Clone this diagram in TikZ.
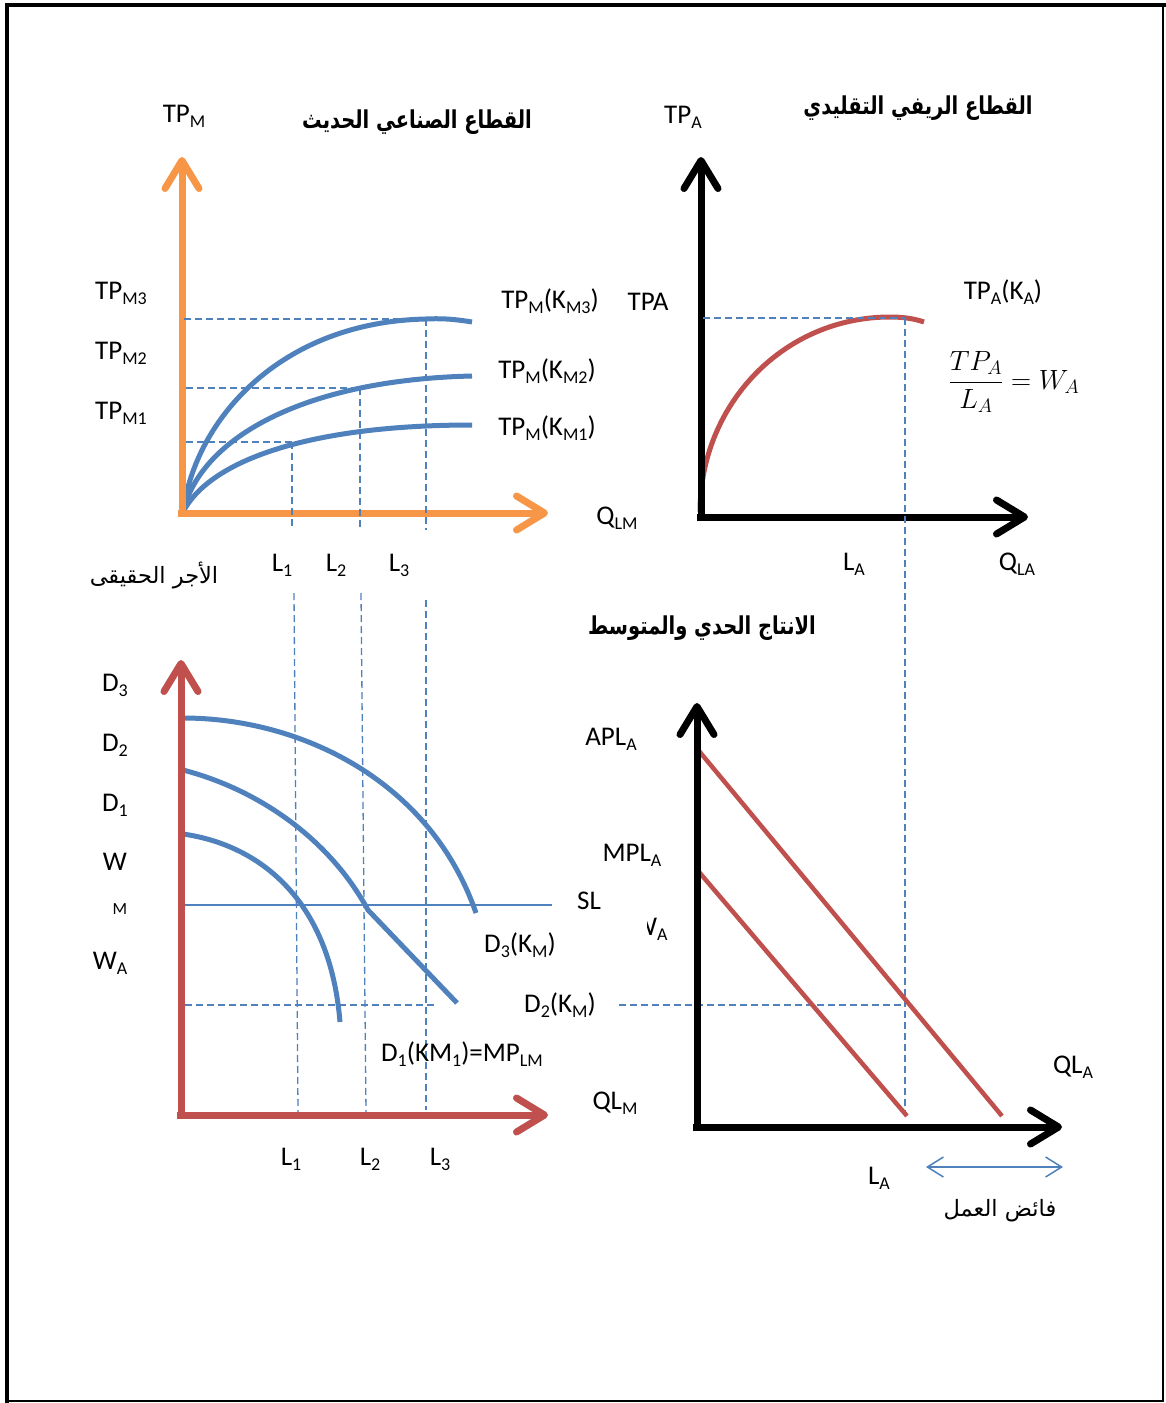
\documentclass[tikz,border=0pt]{standalone}
\usepackage{fontspec}
\usepackage{graphicx}
\setmainfont{Carlito}
\newfontfamily\arabicfont[Script=Arabic,BoldFont={DejaVu Sans Bold}]{DejaVu Sans}
\TeXXeTstate=1
\usetikzlibrary{arrows.meta}
\definecolor{axorange}{RGB}{247,150,70}
\definecolor{curveblue}{RGB}{79,129,189}
\definecolor{axred}{RGB}{192,80,77}
\newcommand\lsub[1]{\raisebox{-5pt}{\fontsize{18}{18}\selectfont #1}}
\newcommand\artitle[1]{\scalebox{0.885}[1.12]{\beginR #1\endR}}
\begin{document}
\begin{tikzpicture}[x=1pt,y=-1pt,
  lbl/.style={inner sep=0pt,font=\fontsize{27}{30}\selectfont},
  ttl/.style={inner sep=0pt,font=\arabicfont\bfseries\fontsize{22}{26}\selectfont},
  artxt/.style={inner sep=0pt,font=\arabicfont\fontsize{22.5}{26}\selectfont},
  axis/.style={line width=7pt,-{Straight Barb[length=28pt,width=34pt,round]}},
  curve/.style={line width=5pt,color=curveblue},
  redline/.style={line width=4.5pt,color=axred},
  guide/.style={line width=1.3pt,color=curveblue,dash pattern=on 7pt off 4pt},
  dbl/.style={line width=1.5pt,color=curveblue,{Straight Barb[length=16pt,width=20pt]}-{Straight Barb[length=16pt,width=20pt]}}]
\useasboundingbox (0,0) rectangle (1166,1403);
\fill[white] (0,0) rectangle (1166,1403);
% frame
\draw[line width=4.5pt] (7,1403) -- (7,5) -- (1166,5);
\draw[line width=1.5pt] (1163,5) -- (1163,1401) -- (7,1401);

% ---------- panel 1 : modern industrial sector ----------
\coordinate (o1) at (182,513);
\draw[curve] (183,512) .. controls (195,420) and (280,322) .. (426,319)
  .. controls (445,318) and (460,320) .. (472,322);
\draw[curve] (183,512) .. controls (200,440) and (300,380) .. (472,376);
\draw[curve] (183,512) .. controls (210,460) and (310,425) .. (472,425);
\draw[axis,axorange] (182,517) -- (182,157);
\draw[axis,axorange] (178,513) -- (548,513);
\draw[guide] (184,319) -- (426,319);
\draw[guide] (186,388) -- (360,388);
\draw[guide] (186,442) -- (292,442);
\draw[guide] (292,442) -- (292,528);
\draw[guide] (360,388) -- (360,528);
\draw[guide] (426,319) -- (426,530);
\node[lbl] (tpm) at (184,116) {TP\lsub{M}};
\node[ttl] (t1) at (417,122) {\artitle{القطاع الصناعي الحديث}};
\node[lbl] (tpm3) at (121,293) {TP\lsub{M3}};
\node[lbl] (tpm2) at (121,353) {TP\lsub{M2}};
\node[lbl] (tpm1) at (121,413) {TP\lsub{M1}};
\node[lbl] (k3) at (550,301) {TP\lsub{M}(K\lsub{M3})};
\node[lbl] (k2) at (547,371) {TP\lsub{M}(K\lsub{M2})};
\node[lbl] (k1) at (547,428) {TP\lsub{M}(K\lsub{M1})};
\node[lbl] (qlm1) at (617,518) {Q\lsub{LM}};
\node[lbl] (l1a) at (282,565) {L\lsub{1}};
\node[lbl] (l2a) at (336,565) {L\lsub{2}};
\node[lbl] (l3a) at (399,565) {L\lsub{3}};
\node[artxt] (wage) at (154,575) {\beginR الأجر الحقيقى\endR};

% ---------- panel 2 : traditional rural sector ----------
\draw[line width=5pt,axred] (700,512) .. controls (700,404) and (784,317) .. (890,317)
  .. controls (905,317) and (915,319) .. (924,322);
\draw[axis,black] (701,521) -- (701,157);
\draw[axis,black] (697,517) -- (1028,517);
\draw[guide] (703,318) -- (905,318);
\draw[guide] (905,318) -- (905,1116);
\node[lbl] (tpa) at (683,117) {TP\lsub{A}};
\node[ttl] (t2) at (918,108) {\artitle{القطاع الريفي التقليدي}};
\node[lbl] (tpaL) at (648,302) {TPA};
\node[lbl] (tpak) at (1003,292) {TP\lsub{A}(K\lsub{A})};
\node[inner sep=0pt,font=\fontsize{27}{30}\selectfont] (frac) at (1014,382)
  {\scalebox{1.12}{$\displaystyle\frac{TP_A}{L_A}=W_A$}};
\node[lbl] (la1) at (854,564) {L\lsub{A}};
\node[lbl] (qla1) at (1017,564) {Q\lsub{LA}};

% ---------- panel 3 : real wage / demand ----------
\draw[guide] (294,593) -- (298,1113);
\draw[guide] (361,593) -- (366,1113);
\draw[guide] (426,600) -- (426,1110);
\draw[guide] (185,1005) -- (437,1005);
\draw[line width=1.3pt,curveblue] (184,905) -- (552,905);
\draw[curve] (183,718) .. controls (300,718) and (430,780) .. (476,913);
\draw[curve] (183,770) .. controls (260,790) and (330,840) .. (368,910) -- (457,1003);
\draw[curve] (183,834) .. controls (260,845) and (330,900) .. (340,1022);
\draw[axis,axred] (181,1119) -- (181,660);
\draw[axis,axred] (177,1115) -- (548,1115);
\node[lbl] (d3) at (115,685) {D\lsub{3}};
\node[lbl] (d2) at (115,745) {D\lsub{2}};
\node[lbl] (d1) at (115,805) {D\lsub{1}};
\node[lbl] (w) at (115,862) {W};
\node[inner sep=0pt,font=\fontsize{17}{20}\selectfont] (m) at (120,909) {M};
\node[lbl] (wa) at (110,963) {W\lsub{A}};
\node[lbl] (d3k) at (520,945) {D\lsub{3}(K\lsub{M})};
\node[lbl] (d2k) at (560,1005) {D\lsub{2}(K\lsub{M})};
\node[lbl] (d1k) at (462,1054) {D\lsub{1}(KM\lsub{1})=MP\lsub{LM}};
\node[lbl] (sl) at (589,901) {SL};
\node[lbl] (qlm2) at (615,1103) {QL\lsub{M}};
\node[lbl] (l1b) at (291,1159) {L\lsub{1}};
\node[lbl] (l2b) at (370,1159) {L\lsub{2}};
\node[lbl] (l3b) at (440,1159) {L\lsub{3}};

% ---------- panel 4 : marginal and average product ----------
\draw[guide] (619,1005) -- (903,1005);
\draw[redline] (699,751) -- (1002,1116);
\draw[redline] (699,872) -- (907,1116);
\draw[axis,black] (697,1130) -- (697,703);
\draw[axis,black] (693,1127) -- (1062,1127);
\node[ttl] (t3) at (702,628) {\artitle{الانتاج الحدي والمتوسط}};
\node[lbl] (apl) at (611,739) {APL\lsub{A}};
\node[lbl] (mpl) at (632,855) {MPL\lsub{A}};
\begin{scope}
  \clip (647,910) rectangle (680,950);
  \node[lbl,anchor=west] (wa2) at (633,929) {W\lsub{A}};
\end{scope}
\node[lbl] (qla2) at (1073,1067) {QL\lsub{A}};
\node[lbl] (la2) at (879,1178) {L\lsub{A}};
\coordinate (sa) at (926,1167);
\coordinate (sb) at (1063,1167);
\draw[dbl] (sa) -- (sb);
\node[artxt] (surplus) at (1000,1211) {\beginR فائض العمل\endR};
\end{tikzpicture}
\end{document}
